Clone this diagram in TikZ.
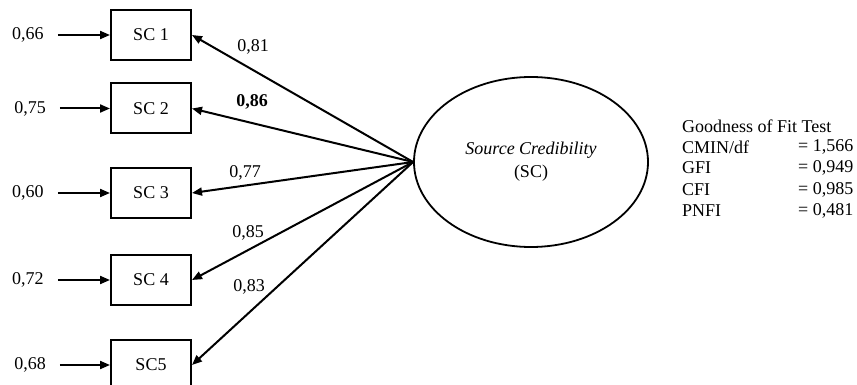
\documentclass[tikz,border=0pt]{standalone}
\usepackage{fontspec}
\setmainfont{Liberation Serif}
\usetikzlibrary{arrows.meta,shapes.geometric}
\begin{document}
\begin{tikzpicture}[x=1pt,y=-1pt,
  every node/.style={font=\fontsize{18}{23}\selectfont, inner sep=0pt},
  indbox/.style={draw, line width=2pt, minimum width=80pt, minimum height=50pt},
  latent/.style={draw, ellipse, line width=1.8pt, minimum width=234pt, minimum height=170pt, align=center},
  arr/.style={line width=2pt, -{Triangle[length=10pt,width=8pt]}},
  errarr/.style={arr, shorten <=14pt},
]
\useasboundingbox (0,0) rectangle (857,385);

% latent construct
\node[latent] (sc) at (531,162) {\textit{Source Credibility}\\(SC)};

% indicators
\node[indbox] (i1) at (151,35) {SC 1};
\node[indbox] (i2) at (151,108.5) {SC 2};
\node[indbox] (i3) at (151,193) {SC 3};
\node[indbox] (i4) at (151,280) {SC 4};
\node[indbox] (i5) at (151,365) {SC5};

% error variances
\node (e1) at (28,35) {0,66};
\node (e2) at (30,108.5) {0,75};
\node (e3) at (28,193) {0,60};
\node (e4) at (28,280) {0,72};
\node (e5) at (30,365) {0,68};

\foreach \k in {1,...,5} {
  \draw[errarr] (e\k.east) -- (i\k.west);
  \draw[arr] (sc.west) -- (i\k.east);
}

% loadings
\node (l1) at (253,47) {0,81};
\node (l2) at (252,102) {\textbf{0,86}};
\node (l3) at (245,173) {0,77};
\node (l4) at (248,233) {0,85};
\node (l5) at (249,287) {0,83};

% fit statistics
\node[anchor=west] (g0) at (682,126) {Goodness of Fit Test};
\node[anchor=west] (g1) at (682,147) {CMIN/df};
\node[anchor=west] (g2) at (682,168) {GFI};
\node[anchor=west] (g3) at (682,190) {CFI};
\node[anchor=west] (g4) at (682,211) {PNFI};
\node[anchor=west] (v1) at (798,147) {= 1,566};
\node[anchor=west] (v2) at (798,168) {= 0,949};
\node[anchor=west] (v3) at (798,190) {= 0,985};
\node[anchor=west] (v4) at (798,211) {= 0,481};
\end{tikzpicture}
\end{document}
